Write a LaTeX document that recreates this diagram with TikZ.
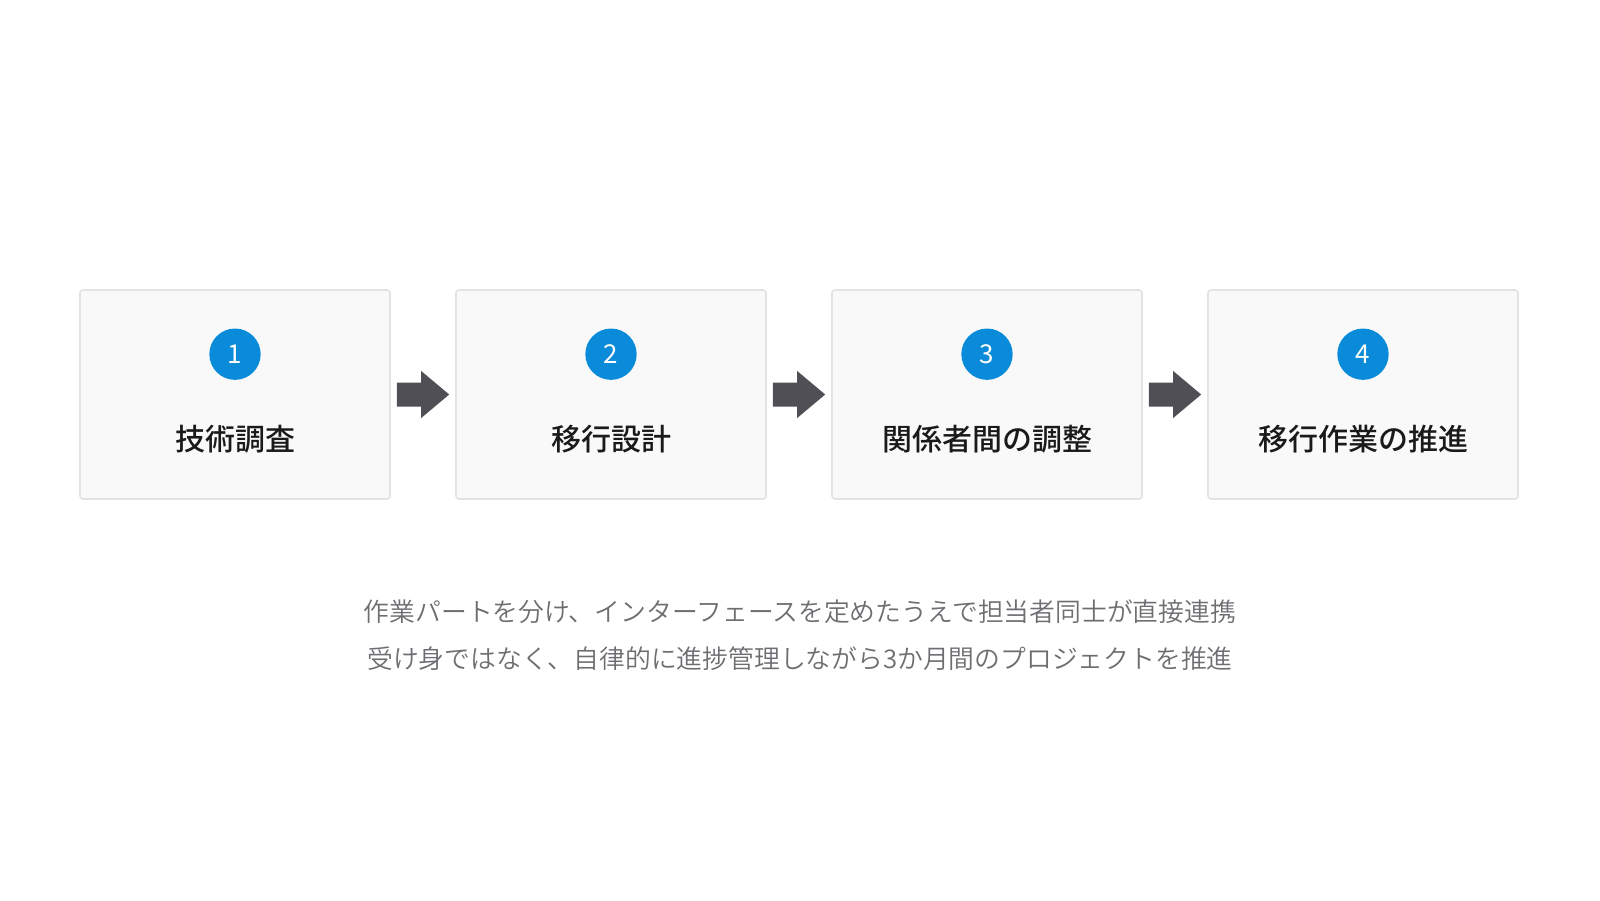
\documentclass[tikz,border=0pt]{standalone}
\usepackage{fontspec}
\usepackage{xcolor}
\usetikzlibrary{positioning,calc}
\newfontfamily\jpfont{Noto Sans CJK JP}
\newfontfamily\jpmedium{Noto Sans CJK JP Medium}
\newfontfamily\jplight{Noto Sans CJK JP DemiLight}

\definecolor{boxfill}{HTML}{F9F9FA}
\definecolor{boxline}{HTML}{E3E3E7}
\definecolor{stepblue}{HTML}{0A8BDA}
\definecolor{arrowgray}{HTML}{4F4F55}
\definecolor{titleblack}{HTML}{1A1A1A}
\definecolor{notegray}{HTML}{6E6E72}

\tikzset{
  stepbox/.style={draw=boxline, line width=1.2pt, fill=boxfill, rounded corners=2.25pt,
    minimum width=232.5pt, minimum height=156.75pt, inner sep=0pt},
  stepnum/.style={circle, fill=stepblue, minimum size=38.5pt, inner sep=0pt,
    text=white, font=\jpfont\fontsize{19.5}{19.5}\selectfont},
  steptitle/.style={text=titleblack, inner sep=0pt, font=\jpmedium\fontsize{22.5}{22.5}\selectfont},
  flowarrow/.style={fill=arrowgray},
  notetext/.style={text=notegray, align=center, inner sep=0pt,
    font=\jplight\fontsize{19.35}{35.25}\selectfont}
}

\begin{document}
\begin{tikzpicture}[x=0.75pt, y=-0.75pt]
\useasboundingbox (0,0) rectangle (1600,900);

% step boxes
\node (step1) [stepbox] at (235,394.5) {};
\node (step2) [stepbox] at (611,394.5) {};
\node (step3) [stepbox] at (987,394.5) {};
\node (step4) [stepbox] at (1363,394.5) {};

% numbers and titles
\node (num1) [stepnum] at ($(step1.north)+(0,65)$) {1};
\node (num2) [stepnum] at ($(step2.north)+(0,65)$) {2};
\node (num3) [stepnum] at ($(step3.north)+(0,65)$) {3};
\node (num4) [stepnum] at ($(step4.north)+(0,65)$) {4};

\node (title1) [steptitle] at ($(step1.north)+(0,150)$) {技術調査};
\node (title2) [steptitle] at ($(step2.north)+(0,150)$) {移行設計};
\node (title3) [steptitle] at ($(step3.north)+(0,150)$) {関係者間の調整};
\node (title4) [steptitle] at ($(step4.north)+(0,150)$) {移行作業の推進};

% block arrows between the boxes
\foreach \a/\b in {step1/step2, step2/step3, step3/step4}{
  \coordinate (tail-\a) at ($(\a.east)+(6,0)$);
  \coordinate (tip-\a) at ($(\b.west)+(-6,0)$);
  \fill[flowarrow] ($(tail-\a)+(0,-12)$) -- ($(tip-\a)+(-28,-12)$) -- ($(tip-\a)+(-28,-23.5)$)
    -- (tip-\a) -- ($(tip-\a)+(-28,23.5)$) -- ($(tip-\a)+(-28,12)$) -- ($(tail-\a)+(0,12)$) -- cycle;
}

% note below
\node (note) [notetext] at (800,635.5)
  {作業パートを分け、インターフェースを定めたうえで担当者同士が直接連携\\
   受け身ではなく、自律的に進捗管理しながら3か月間のプロジェクトを推進};
\end{tikzpicture}
\end{document}
